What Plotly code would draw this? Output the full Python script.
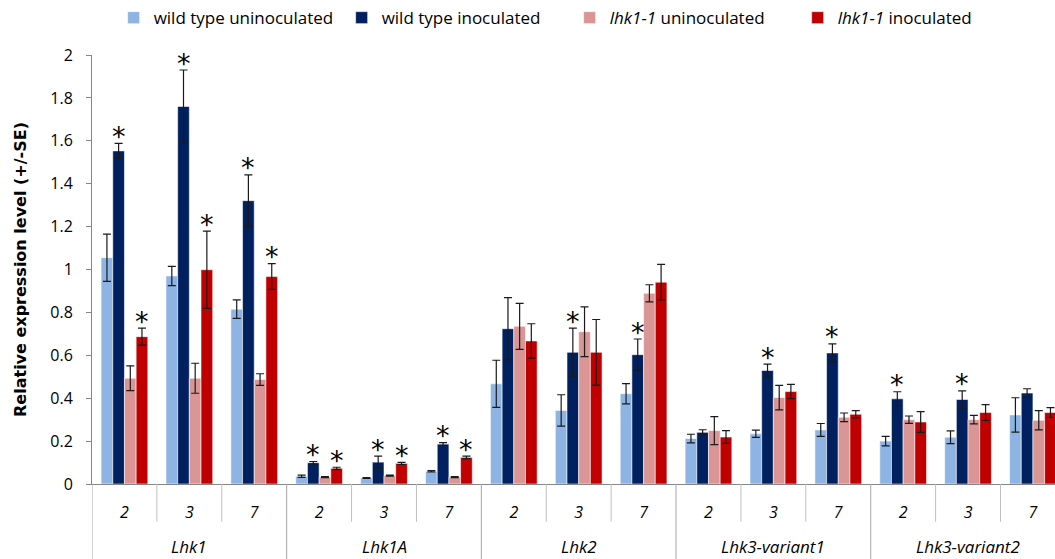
import plotly.graph_objects as go

# Expression data: 5 genes x 3 days, four genotype/treatment series
genes = ["Lhk1", "Lhk1A", "Lhk2", "Lhk3-variant1", "Lhk3-variant2"]
days = ["2", "3", "7"]

wt_un = [1.055, 0.970, 0.815, 0.036, 0.028, 0.059, 0.467, 0.343, 0.421, 0.212, 0.234, 0.252, 0.200, 0.218, 0.322]
wt_un_se = [0.110, 0.045, 0.043, 0.005, 0.002, 0.003, 0.110, 0.073, 0.047, 0.020, 0.017, 0.030, 0.022, 0.030, 0.080]
wt_in = [1.553, 1.760, 1.321, 0.099, 0.102, 0.186, 0.724, 0.614, 0.603, 0.241, 0.529, 0.611, 0.397, 0.394, 0.424]
wt_in_se = [0.035, 0.170, 0.120, 0.006, 0.028, 0.007, 0.145, 0.113, 0.073, 0.012, 0.030, 0.042, 0.033, 0.040, 0.020]
mut_un = [0.493, 0.493, 0.487, 0.032, 0.039, 0.032, 0.735, 0.710, 0.889, 0.249, 0.403, 0.311, 0.300, 0.300, 0.297]
mut_un_se = [0.058, 0.070, 0.027, 0.002, 0.002, 0.002, 0.107, 0.116, 0.040, 0.065, 0.057, 0.020, 0.017, 0.020, 0.045]
mut_in = [0.687, 0.999, 0.967, 0.073, 0.096, 0.124, 0.667, 0.614, 0.941, 0.219, 0.431, 0.325, 0.289, 0.333, 0.333]
mut_in_se = [0.040, 0.180, 0.060, 0.005, 0.005, 0.006, 0.080, 0.153, 0.083, 0.030, 0.033, 0.017, 0.048, 0.037, 0.023]

# significance markers (inoculated vs uninoculated)
wt_in_sig = [1, 1, 1, 1, 1, 1, 0, 1, 1, 0, 1, 1, 1, 1, 0]
mut_in_sig = [1, 1, 1, 1, 1, 1, 0, 0, 0, 0, 0, 0, 0, 0, 0]

series = [
    ("wild type uninoculated", wt_un, wt_un_se, None, "#8DB4E2"),
    ("wild type inoculated", wt_in, wt_in_se, wt_in_sig, "#002060"),
    ("<i>lhk1-1</i> uninoculated", mut_un, mut_un_se, None, "#DA9694"),
    ("<i>lhk1-1</i> inoculated", mut_in, mut_in_se, mut_in_sig, "#C00000"),
]

FONT = "'Open Sans', Lato, sans-serif"
n_cat = len(genes) * len(days)
cat_idx = list(range(n_cat))
bar_w = 0.18
offsets = [(k - 1.5) * bar_w for k in range(len(series))]

fig = go.Figure()
for k, (name, vals, se, sig, color) in enumerate(series):
    xs = [i + offsets[k] for i in cat_idx]
    fig.add_trace(go.Bar(
        x=xs, y=vals, width=bar_w, name=name,
        marker=dict(color=color, line=dict(color="rgba(255,255,255,0.55)", width=1)),
        error_y=dict(type="data", array=se, visible=True, color="#1a1a1a",
                     thickness=1.2, width=4),
    ))

annotations = []
# asterisks just above the error bar of significant bars
for k, (name, vals, se, sig, color) in enumerate(series):
    if sig is None:
        continue
    for i in cat_idx:
        if sig[i]:
            annotations.append(dict(
                x=i + offsets[k], y=vals[i] + se[i], xref="x", yref="y",
                text="*", showarrow=False, xanchor="center", yanchor="middle",
                yshift=7, font=dict(size=27, color="black", family="DejaVu Sans"),
            ))

# category separators in the label band below the axis
shapes = []
for b in range(n_cat + 1):
    major = b % len(days) == 0
    shapes.append(dict(
        type="line", xref="x", yref="paper",
        x0=b - 0.5, x1=b - 0.5, y0=0, y1=-0.18 if major else -0.088,
        line=dict(color="#BFBFBF" if not major else "#A6A6A6", width=1),
    ))

for g, gene in enumerate(genes):
    annotations.append(dict(
        x=g * len(days) + 1, y=-0.146, xref="x", yref="paper",
        text="<i>%s</i>" % gene, showarrow=False,
        font=dict(family=FONT, size=17, color="black"),
        xanchor="center", yanchor="middle",
    ))

fig.update_layout(
    width=1055, height=559,
    margin=dict(l=92, r=0, t=53, b=75),
    paper_bgcolor="white", plot_bgcolor="white",
    barmode="overlay",
    font=dict(family=FONT, color="black"),
    showlegend=True,
    legend=dict(orientation="h", x=0.496, xanchor="center", y=1.086, yanchor="middle",
                font=dict(family=FONT, size=17, color="black"),
                itemwidth=30, traceorder="normal",
                entrywidth=183, entrywidthmode="pixels"),
    shapes=shapes, annotations=annotations,
    xaxis=dict(range=[-0.5, 14.34], tickmode="array", tickvals=cat_idx,
               ticktext=["<i>%s</i>" % d for g in genes for d in days],
               showline=True, linecolor="#868686", linewidth=1, ticks="",
               showgrid=False, zeroline=False, ticklabelstandoff=14,
               tickfont=dict(family=FONT, size=16, color="black")),
    yaxis=dict(range=[0, 2], tickmode="array",
               tickvals=[0, 0.2, 0.4, 0.6, 0.8, 1, 1.2, 1.4, 1.6, 1.8, 2],
               ticktext=["0", "0.2", "0.4", "0.6", "0.8", "1", "1.2", "1.4", "1.6", "1.8", "2"],
               showline=True, linecolor="#868686", linewidth=1,
               ticks="outside", ticklen=5, tickcolor="#868686",
               showgrid=False, zeroline=False, ticklabelstandoff=10,
               tickfont=dict(family=FONT, size=16, color="black"),
               title=dict(text="<b>Relative expression level (+/-SE)</b>", standoff=19,
                          font=dict(family="DejaVu Sans", size=16, color="black"))),
)

fig.write_html("out.html")
